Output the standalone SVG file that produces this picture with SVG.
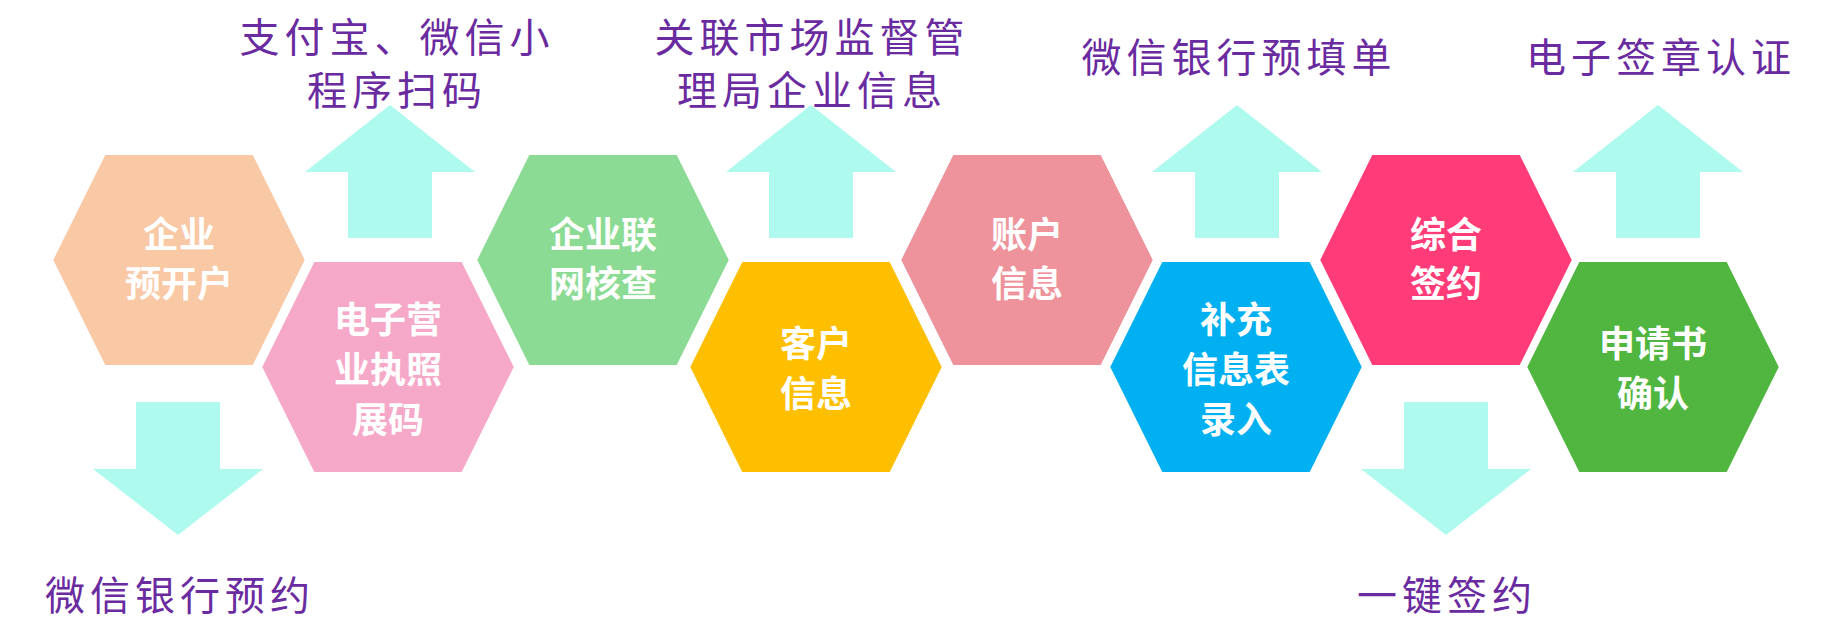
<svg xmlns="http://www.w3.org/2000/svg" width="1829" height="626" viewBox="0 0 1829 626">
<defs>
<style>
.hex{stroke:#fff;stroke-width:4}
.nt{font-family:"Noto Sans CJK SC","Noto Sans",sans-serif;font-weight:bold;font-size:36px;fill:#fff;text-anchor:middle;dominant-baseline:central}
.lb{font-family:"Noto Sans CJK SC","Noto Sans",sans-serif;font-size:40px;fill:#6a2ba0;text-anchor:middle;dominant-baseline:central;letter-spacing:5px}
.ar{fill:#affaef}
</style>
<polygon id="hx" class="hex" points="-75,-107 75,-107 128,0 75,107 -75,107 -128,0"/>
<polygon id="up" class="ar" points="0,0 85,67 42,67 42,133 -42,133 -42,67 -85,67"/>
</defs>
<g id="connectors">
<use href="#up" x="390" y="105"/>
<use href="#up" x="811" y="105"/>
<use href="#up" x="1237" y="105"/>
<use href="#up" x="1658" y="105"/>
<polygon class="ar" points="136,402 220,402 220,469 263,469 178,535 93,469 136,469"/>
<polygon class="ar" points="1404,402 1488,402 1488,469 1531,469 1446,535 1361,469 1404,469"/>
</g>
<g id="n1"><use href="#hx" x="179" y="260" fill="#f9c8a5"/><text class="nt" x="179" y="232">企业</text><text class="nt" x="179" y="281">预开户</text></g>
<g id="n3"><use href="#hx" x="603" y="260" fill="#8cdb94"/><text class="nt" x="603" y="232">企业联</text><text class="nt" x="603" y="281">网核查</text></g>
<g id="n5"><use href="#hx" x="1027" y="260" fill="#ee939b"/><text class="nt" x="1027" y="232">账户</text><text class="nt" x="1027" y="281">信息</text></g>
<g id="n7"><use href="#hx" x="1446" y="260" fill="#ff3c78"/><text class="nt" x="1446" y="232">综合</text><text class="nt" x="1446" y="281">签约</text></g>
<g id="n2"><use href="#hx" x="388" y="367" fill="#f6a8c8"/><text class="nt" x="388" y="317">电子营</text><text class="nt" x="388" y="367">业执照</text><text class="nt" x="388" y="417">展码</text></g>
<g id="n4"><use href="#hx" x="816" y="367" fill="#fdbf00"/><text class="nt" x="816" y="341">客户</text><text class="nt" x="816" y="391">信息</text></g>
<g id="n6"><use href="#hx" x="1236" y="367" fill="#00b0f0"/><text class="nt" x="1236" y="317">补充</text><text class="nt" x="1236" y="367">信息表</text><text class="nt" x="1236" y="417">录入</text></g>
<g id="n8"><use href="#hx" x="1653" y="367" fill="#50b640"/><text class="nt" x="1653" y="341">申请书</text><text class="nt" x="1653" y="391">确认</text></g>
<g id="labels">
<text class="lb" x="397" y="35">支付宝、微信小</text>
<text class="lb" x="397" y="88">程序扫码</text>
<text class="lb" x="812" y="35">关联市场监督管</text>
<text class="lb" x="812" y="88">理局企业信息</text>
<text class="lb" x="1239" y="55">微信银行预填单</text>
<text class="lb" x="1661" y="55">电子签章认证</text>
<text class="lb" x="180" y="593">微信银行预约</text>
<text class="lb" x="1447" y="593">一键签约</text>
</g>
</svg>
